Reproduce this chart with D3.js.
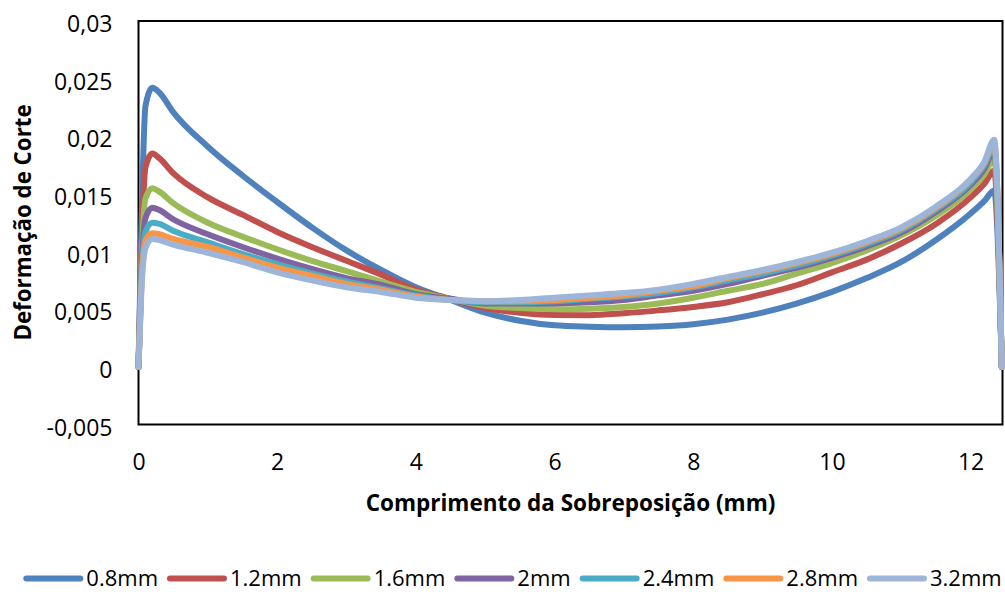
<!DOCTYPE html>
<html>
<head>
<meta charset="utf-8">
<script src="https://cdn.jsdelivr.net/npm/d3@7"></script>
<style>
  html, body { margin: 0; padding: 0; background: #fff; }
  svg { display: block; }
  text { font-family: "Open Sans", "Noto Sans", sans-serif; fill: #000; }
</style>
</head>
<body>
<svg id="chart" width="1005" height="592"></svg>
<script>
// Overlap length positions (mm)
const lengths = [0, 0.04, 0.1, 0.2, 0.3, 0.5, 1, 1.5, 2, 2.5, 3, 3.5, 4, 4.5, 5, 5.5, 6, 6.5,
  7, 7.5, 8, 8.5, 9, 9.5, 10, 10.5, 11, 11.5, 12, 12.2, 12.34, 12.45];

// Shear strain along the overlap, one array per adhesive thickness
const strain08 = [0, 0.0115, 0.0226, 0.0242, 0.0238, 0.0221, 0.0191, 0.0166, 0.0143, 0.0121, 0.0101, 0.0084,
  0.0069, 0.0058, 0.0047, 0.0040, 0.0036, 0.00348, 0.00343, 0.0035, 0.0037, 0.0041, 0.0047, 0.0055,
  0.0065, 0.0077, 0.0091, 0.0110, 0.0133, 0.0144, 0.0153, 0];
const strain12 = [0, 0.0095, 0.0173, 0.0185, 0.0181, 0.0168, 0.0147, 0.0132, 0.0117, 0.0104, 0.0092, 0.0080,
  0.0067, 0.0059, 0.0051, 0.0047, 0.0045, 0.00448, 0.00465, 0.0049, 0.0052, 0.0056, 0.0063, 0.0071,
  0.0082, 0.0093, 0.0107, 0.0124, 0.0147, 0.0159, 0.0170, 0];
const strain16 = [0, 0.0085, 0.0146, 0.0155, 0.0152, 0.0142, 0.0125, 0.0113, 0.0102, 0.0092, 0.0083, 0.0074,
  0.0065, 0.0059, 0.0053, 0.0051, 0.0050, 0.00505, 0.0052, 0.0055, 0.0060, 0.0066, 0.0072, 0.0081,
  0.0090, 0.0101, 0.0114, 0.0131, 0.0154, 0.0167, 0.0181, 0];
const strain20 = [0, 0.0078, 0.0129, 0.0138, 0.0136, 0.0128, 0.0115, 0.0104, 0.0094, 0.0085, 0.0077, 0.0071,
  0.0063, 0.0059, 0.0055, 0.0055, 0.0055, 0.0056, 0.0058, 0.0062, 0.0066, 0.0072, 0.0079, 0.0086,
  0.00945, 0.01045, 0.01165, 0.01345, 0.0158, 0.0172, 0.0188, 0];
const strain24 = [0, 0.0072, 0.0117, 0.0125, 0.0124, 0.0118, 0.0108, 0.0098, 0.0089, 0.0081, 0.0074, 0.0068,
  0.0062, 0.0058, 0.0056, 0.0056, 0.0057, 0.0059, 0.0061, 0.0064, 0.0069, 0.0075, 0.0081, 0.0088,
  0.00965, 0.01065, 0.01185, 0.01365, 0.0160, 0.0175, 0.0191, 0];
const strain28 = [0, 0.0068, 0.0109, 0.0116, 0.0115, 0.0111, 0.0104, 0.0095, 0.0086, 0.0079, 0.0072, 0.0067,
  0.0061, 0.0058, 0.0057, 0.0057, 0.0058, 0.0060, 0.0062, 0.0066, 0.0070, 0.0077, 0.0083, 0.0090,
  0.0098, 0.0108, 0.0120, 0.0138, 0.0162, 0.0177, 0.0194, 0];
const strain32 = [0, 0.0064, 0.0103, 0.0111, 0.0110, 0.0106, 0.0099, 0.0091, 0.0082, 0.0075, 0.0069, 0.0065,
  0.0060, 0.0058, 0.0057, 0.0058, 0.0060, 0.0062, 0.0064, 0.0067, 0.0072, 0.0078, 0.0084, 0.0091,
  0.0099, 0.0109, 0.0121, 0.0139, 0.0163, 0.0178, 0.0197, 0];

const seriesNames = ["0.8mm", "1.2mm", "1.6mm", "2mm", "2.4mm", "2.8mm", "3.2mm"];
const seriesValues = [strain08, strain12, strain16, strain20, strain24, strain28, strain32];
const seriesColors = ["#4F81BD", "#C0504D", "#9BBB59", "#8064A2", "#4BACC6", "#F79646", "#9DB5D9"];

const xTicks = [0, 2, 4, 6, 8, 10, 12];
const yTicks = [-0.005, 0, 0.005, 0.01, 0.015, 0.02, 0.025, 0.03];

const xTitle = "Comprimento da Sobreposição (mm)";
const yTitle = "Deformação de Corte";

// ---- layout ----
const svg = d3.select("#chart");
const plot = { left: 138.5, right: 1002.5, top: 21, bottom: 424.5 };

const x = d3.scaleLinear().domain([0, 12.46]).range([plot.left, plot.right]);
const y = d3.scaleLinear().domain([-0.005, 0.03]).range([plot.bottom, plot.top]);

const ptLocale = d3.formatLocale({ decimal: ",", thousands: ".", grouping: [3], currency: ["", ""], minus: "-" });
const fmt = ptLocale.format("~f");

// plot frame
svg.append("rect")
  .attr("x", plot.left).attr("y", plot.top)
  .attr("width", plot.right - plot.left).attr("height", plot.bottom - plot.top)
  .attr("fill", "none").attr("stroke", "#000").attr("stroke-width", 2);

// y axis labels
const yAxis = svg.append("g")
  .attr("transform", `translate(${plot.left},0)`)
  .call(d3.axisLeft(y).tickValues(yTicks).tickFormat(fmt).tickSize(0).tickPadding(26));
yAxis.select(".domain").remove();
yAxis.selectAll("text")
  .attr("dy", "0.46em")
  .style("font-family", "'Open Sans', sans-serif")
  .style("font-size", "23px").attr("fill", "#000");

// x axis labels
const xAxis = svg.append("g")
  .attr("transform", `translate(0,${plot.bottom})`)
  .call(d3.axisBottom(x).tickValues(xTicks).tickFormat(d3.format("d")).tickSize(0).tickPadding(29));
xAxis.select(".domain").remove();
xAxis.selectAll("text")
  .style("font-family", "'Open Sans', sans-serif")
  .style("font-size", "23px").attr("fill", "#000");

// axis titles
svg.append("text")
  .attr("x", (plot.left + plot.right) / 2).attr("y", 511)
  .attr("text-anchor", "middle")
  .style("font-size", "22.5px").style("font-weight", "bold")
  .text(xTitle);

svg.append("text")
  .attr("transform", "translate(31,222.5) rotate(-90)")
  .attr("text-anchor", "middle")
  .style("font-size", "22.3px").style("font-weight", "bold")
  .text(yTitle);

// series lines
const line = d3.line()
  .x((d, i) => x(lengths[i]))
  .y(d => y(d))
  .curve(d3.curveMonotoneX);

svg.append("g")
  .selectAll("path")
  .data(seriesValues)
  .join("path")
  .attr("d", line)
  .attr("fill", "none")
  .attr("stroke", (d, i) => seriesColors[i])
  .attr("stroke-width", 6)
  .attr("stroke-linejoin", "round")
  .attr("stroke-linecap", "round");

// legend, centred below the chart
const legendY = 578.5;
const sampleLen = 54, sampleGap = 6, itemGap = 12;
const legend = svg.append("g");
const items = legend.selectAll("g")
  .data(seriesNames)
  .join("g");
items.append("line")
  .attr("x1", 0).attr("x2", sampleLen)
  .attr("y1", 0).attr("y2", 0)
  .attr("stroke", (d, i) => seriesColors[i])
  .attr("stroke-width", 6)
  .attr("stroke-linecap", "round");
items.append("text")
  .attr("x", sampleLen + sampleGap)
  .attr("dy", "0.36em")
  .style("font-size", "22px")
  .text(d => d);

let offset = 0;
const widths = [];
items.each(function () {
  const w = sampleLen + sampleGap + d3.select(this).select("text").node().getComputedTextLength();
  widths.push(w);
});
const total = d3.sum(widths) + itemGap * (widths.length - 1);
const start = 514 - total / 2;
items.attr("transform", (d, i) => {
  const tx = start + offset;
  offset += widths[i] + itemGap;
  return `translate(${tx},${legendY})`;
});
</script>
</body>
</html>
